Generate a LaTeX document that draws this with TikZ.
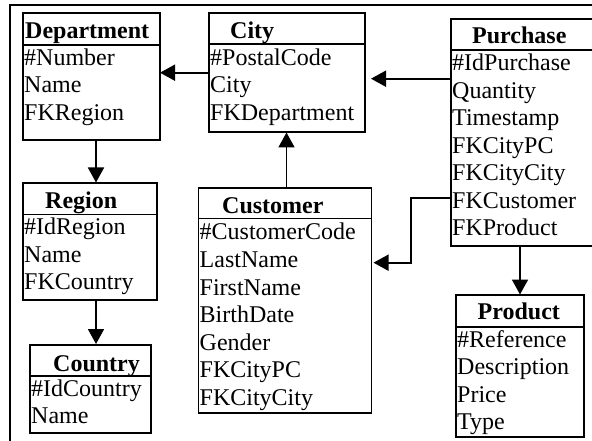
\documentclass[tikz,border=0pt]{standalone}
\usepackage{fontspec}
\setmainfont{Liberation Serif}
\usetikzlibrary{arrows.meta}
\begin{document}
\begin{tikzpicture}[x=1pt,y=-1pt,
  lw/.style={line width=1.8pt},
  tbl/.style={lw,draw=black,rectangle,inner sep=0pt,outer sep=0pt},
  ttl/.style={anchor=base west,inner sep=0pt,font=\fontsize{24}{27}\selectfont\bfseries},
  att/.style={anchor=base west,inner sep=0pt,font=\fontsize{24}{27}\selectfont},
  conn/.style={lw,-{Triangle[length=15pt,width=16pt]}}]
\useasboundingbox (0,0) rectangle (592,441);
\clip (0,0) rectangle (592,441);
% frame
\draw[lw] (10,470) -- (10,5) -- (620,5);
% Department
\node[tbl,minimum width=137pt,minimum height=127pt] (dep) at (91.5,76.5) {};
\draw[lw] (23,45) -- (160,45);
\node[ttl] (depT) at (25,39) {Department};
\node[att] (dep1) at (24,65.5) {\#Number};
\node[att] (dep2) at (24,93) {Name};
\node[att] (dep3) at (24,120.5) {FKRegion};
% City
\node[tbl,minimum width=156pt,minimum height=119pt] (city) at (287,72.5) {};
\draw[lw] (209,44) -- (365,44);
\node[ttl] (cityT) at (230,39) {City};
\node[att] (city1) at (210,65.5) {\#PostalCode};
\node[att] (city2) at (210,93) {City};
\node[att] (city3) at (210,120.5) {FKDepartment};
% Purchase
\node[tbl,minimum width=159pt,minimum height=227pt] (pur) at (530.5,132.5) {};
\draw[lw] (451,50) -- (610,50);
\node[ttl] (purT) at (472,44) {Purchase};
\node[att] (pur1) at (452,70.8) {\#IdPurchase};
\node[att] (pur2) at (452,98.3) {Quantity};
\node[att] (pur3) at (452,125.8) {Timestamp};
\node[att] (pur4) at (452,153.3) {FKCityPC};
\node[att] (pur5) at (452,180.8) {FKCityCity};
\node[att] (pur6) at (452,208.3) {FKCustomer};
\node[att] (pur7) at (452,235.8) {FKProduct};
% Region
\node[tbl,minimum width=134pt,minimum height=117pt] (reg) at (90,241.5) {};
\draw[lw] (23,214.5) -- (157,214.5);
\node[ttl] (regT) at (45,208.3) {Region};
\node[att] (reg1) at (24,234.8) {\#IdRegion};
\node[att] (reg2) at (24,262.3) {Name};
\node[att] (reg3) at (24,289.8) {FKCountry};
% Customer
\node[tbl,minimum width=173pt,minimum height=225pt] (cus) at (285,300.5) {};
\draw[lw] (198.5,218.5) -- (371.5,218.5);
\node[ttl] (cusT) at (222,213.3) {Customer};
\node[att] (cus1) at (199.5,240) {\#CustomerCode};
\node[att] (cus2) at (199.5,267.5) {LastName};
\node[att] (cus3) at (199.5,295) {FirstName};
\node[att] (cus4) at (199.5,322.5) {BirthDate};
\node[att] (cus5) at (199.5,350) {Gender};
\node[att] (cus6) at (199.5,377.5) {FKCityPC};
\node[att] (cus7) at (199.5,405) {FKCityCity};
% Country
\node[tbl,minimum width=121pt,minimum height=88pt] (cty) at (90.5,389) {};
\draw[lw] (30,376) -- (151,376);
\node[ttl] (ctyT) at (53,371) {Country};
\node[att] (cty1) at (31,396) {\#IdCountry};
\node[att] (cty2) at (31,423.5) {Name};
% Product
\node[tbl,minimum width=128pt,minimum height=142pt] (prd) at (520,366) {};
\draw[lw] (456,327) -- (584,327);
\node[ttl] (prdT) at (477.5,319.5) {Product};
\node[att] (prd1) at (457,347) {\#Reference};
\node[att] (prd2) at (457,374.5) {Description};
\node[att] (prd3) at (457,402) {Price};
\node[att] (prd4) at (457,429.5) {Type};
% connectors
\coordinate (cdA) at (209,72.7);
\draw[conn] (cdA) -- (dep.east |- cdA);
\coordinate (pcA) at (451,78.7);
\coordinate (pcB) at (371,78.7);
\draw[conn] (pcA) -- (pcB);
\draw[conn] (96,140) -- (96,182.5);
\draw[conn] (286.5,188) -- (286.5,132.5);
\draw[conn] (96,300) -- (96,344);
\coordinate (pkA) at (451,198.3);
\coordinate (pkB) at (411,198.3);
\coordinate (pkC) at (411,262.7);
\coordinate (pkD) at (373.5,262.7);
\draw[conn] (pkA) -- (pkB) -- (pkC) -- (pkD);
\draw[conn] (pur.south -| 520,0) -- (520,294.5);
\end{tikzpicture}
\end{document}
